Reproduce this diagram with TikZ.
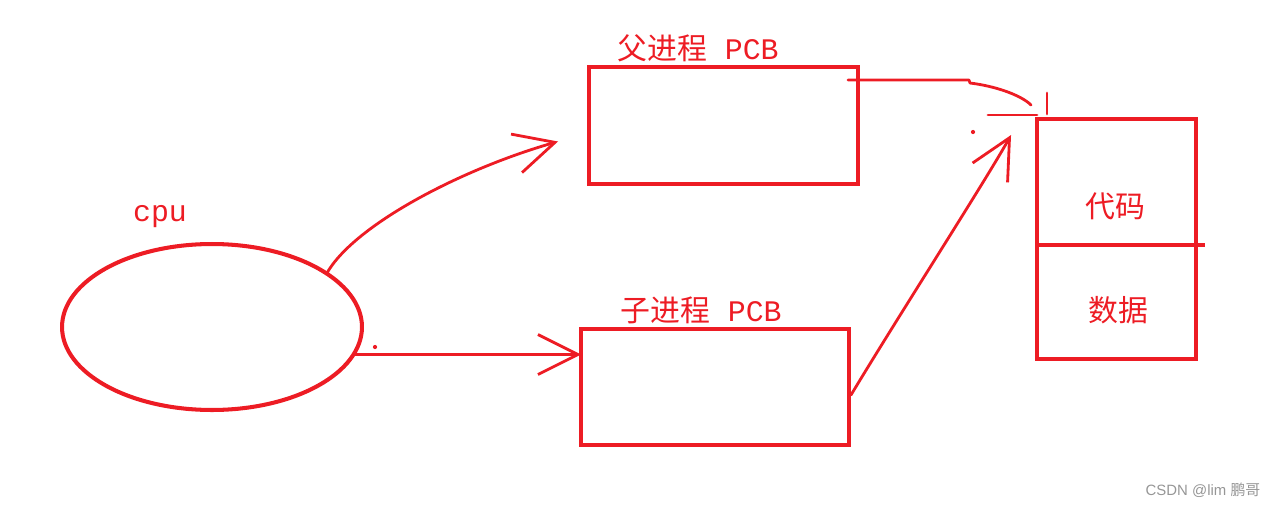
\documentclass[tikz,border=0pt]{standalone}
\usepackage{fontspec}
\usepackage{tikz}
\usetikzlibrary{arrows.meta, positioning, calc, shapes.geometric}
\newfontfamily\cjk{Noto Sans CJK SC}
\newfontfamily\wmfont{Liberation Sans}
\setmonofont{Liberation Mono}
\definecolor{penRed}{RGB}{237,28,36}
\definecolor{wmGray}{RGB}{150,150,150}
\tikzset{
	pcbbox/.style={rectangle, draw=penRed, line width=2.6pt, inner sep=0pt, outer sep=0pt},
	cpushape/.style={ellipse, draw=penRed, line width=2.3pt, inner sep=0pt, outer sep=0pt, minimum width=6cm, minimum height=3.32cm},
	penlabel/.style={text=penRed, font=\fontsize{17}{20}\selectfont, inner sep=0pt},
	penline/.style={draw=penRed, line width=1.6pt, line cap=round, line join=round},
	penarrow/.style={penline, -{Straight Barb[length=8mm, width=8mm]}},
	% stray pen dots
	pendot/.style={fill=penRed},
}

\begin{document}
\begin{tikzpicture}[x=0.02cm, y=-0.02cm]
	\useasboundingbox (0,0) rectangle (1277,507);
	% cpu
	\node[cpushape] (cpu) at (212,327) {};
	\node[penlabel] (cpulbl) at (160,217) {\texttt{cpu}};
	% the two PCBs
	\node[pcbbox, minimum width=5.38cm, minimum height=2.34cm] (parent) at (723.5,125.5) {};
	\node[penlabel] (parentlbl) at (698,48) {{\cjk 父进程}\texttt{~PCB}};
	\node[pcbbox, minimum width=5.36cm, minimum height=2.32cm] (child) at (715,387) {};
	\node[penlabel] (childlbl) at (701,310) {{\cjk 子进程}\texttt{~PCB}};
	% code and data
	\node[pcbbox, minimum width=3.18cm, minimum height=4.8cm] (mem) at (1116.5,239) {};
	\draw[penRed, line width=2.4pt] ($(mem.west)+(0,6)$) -- ($(mem.east)+(9,6)$);
	\node[penlabel] (code) at (1115,206) {\cjk 代码};
	\node[penlabel] (data) at (1118,310) {\cjk 数据};
	% arrows
	\draw[penarrow] (cpu.25) .. controls +(27,-48) and +(-98,28) .. ($(parent.west)+(-31,16)$);
	\draw[penarrow] (cpu.-11) -- (cpu.-11 -| child.west);
	\fill[pendot] (375,347) circle[radius=1.2pt];
	\draw[penline] ($(parent.north east)+(-10,13)$) -- ++(121,0) -- ++(1,3)
		.. controls +(25,3) and +(-10,-10) .. ($(mem.north west)+(-6,-14)$);
	\draw[penline] ($(mem.north west)+(-49,-4)$) -- ($(mem.north west)+(0,-4)$);
	\draw[penline] ($(mem.north west)+(10,-26)$) -- ($(mem.north west)+(10,-5)$);
	\draw[penarrow] ($(child.east)+(2,8)$) .. controls +(45,-75) and +(-25,45) .. ($(mem.north west)+(-26,16)$);
	\fill[pendot] (973,132) circle[radius=1.2pt];
	% watermark
	\node[text=wmGray, font=\fontsize{8.5}{10}\selectfont, inner sep=0pt] (mark) at (1203,490) {{\wmfont CSDN @lim }{\cjk 鹏哥}};
\end{tikzpicture}
\end{document}
